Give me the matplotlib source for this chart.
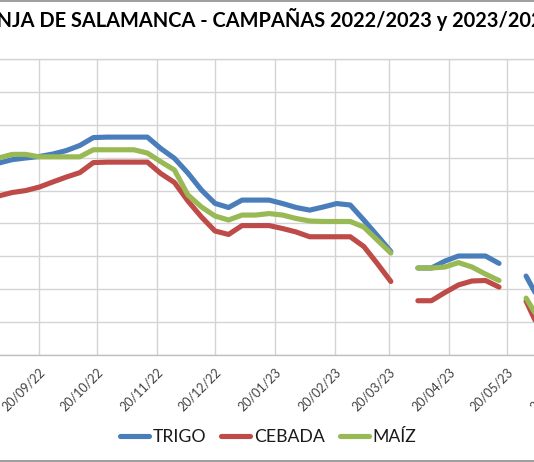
import matplotlib
matplotlib.use('Agg')
import matplotlib.pyplot as plt
import matplotlib.dates as mdates
from matplotlib.transforms import ScaledTranslation
from matplotlib.lines import Line2D
import numpy as np
from datetime import datetime, timedelta

plt.rcParams['font.family'] = ['Lato', 'DejaVu Sans']

# ---- data ----
fechas = ['2022-08-30', '2022-09-06', '2022-09-13', '2022-09-20', '2022-09-27',
          '2022-10-04', '2022-10-11', '2022-10-18', '2022-10-25', '2022-11-01',
          '2022-11-08', '2022-11-15', '2022-11-22', '2022-11-29', '2022-12-06',
          '2022-12-13', '2022-12-20', '2022-12-27', '2023-01-03', '2023-01-10',
          '2023-01-17', '2023-01-24', '2023-01-31', '2023-02-07', '2023-02-14',
          '2023-02-21', '2023-02-28', '2023-03-07', '2023-03-14', '2023-03-21',
          '2023-03-28', '2023-04-04', '2023-04-11', '2023-04-18', '2023-04-25',
          '2023-05-02', '2023-05-09', '2023-05-16', '2023-05-23', '2023-05-30',
          '2023-06-06']

trigo = [316.7, 318.8, 319.8, 320.7, 322.2, 324.3, 327.4, 332.2, 332.5, 332.5,
         332.5, 332.5, 325.5, 319.6, 310.6, 300.3, 292.2, 289.7, 294.2, 294.2,
         294.2, 292.1, 289.7, 288.1, 290.0, 292.1, 291.2, 282.1, 272.6, 262.9,
         None, 252.9, 252.9, 257.1, 260.2, 260.2, 260.2, 255.7, None, 248.0,
         233.0]

cebada = [296.7, 298.8, 300.0, 302.1, 305.2, 308.2, 310.9, 317.0, 317.3, 317.3,
          317.3, 317.3, 310.3, 304.9, 293.6, 283.9, 275.4, 273.3, 278.7, 278.7,
          278.7, 276.9, 274.8, 271.9, 271.9, 271.9, 271.9, 266.0, 255.6, 244.7,
          None, 233.0, 233.0, 238.0, 242.6, 245.0, 245.3, 241.3, None, 232.8,
          215.2]

maiz = [319.8, 322.0, 322.0, 320.5, 320.5, 320.5, 320.5, 324.8, 324.8, 324.8,
        324.8, 322.8, 317.5, 312.5, 297.3, 290.0, 284.5, 282.1, 285.1, 285.1,
        286.0, 285.1, 283.0, 281.5, 281.2, 281.2, 281.2, 277.8, 269.9, 262.0,
        None, 252.9, 252.9, 253.5, 256.2, 253.5, 249.2, 245.3, None, 234.6,
        221.0]

series_names = ['TRIGO', 'CEBADA', 'MAÍZ']
series_colors = ['#4A7EBB', '#BE4B48', '#98B954']

tick_fechas = ['2022-09-20', '2022-10-20', '2022-11-20', '2022-12-20',
               '2023-01-20', '2023-02-20', '2023-03-20', '2023-04-20',
               '2023-05-20']
tick_extra = '2023-06-20'   # label partly visible at the right edge

titulo = 'LONJA DE SALAMANCA - CAMPAÑAS 2022/2023 y 2023/2024'

# ---- figure ----
W, H = 534, 462
fig = plt.figure(figsize=(W / 100, H / 100), dpi=100)
fig.patch.set_facecolor('white')

ax = fig.add_axes([0, 107 / H, 1, 296 / H])

x = [datetime.strptime(d, '%Y-%m-%d') for d in fechas]
def arr(v):
    return np.array([np.nan if a is None else a for a in v], dtype=float)

for vals, name, col in zip([trigo, cebada, maiz], series_names, series_colors):
    ax.plot(x, arr(vals), color=col, lw=3.7, label=name,
            solid_capstyle='round', solid_joinstyle='round', zorder=3)

ax.set_yticks(np.arange(200, 381, 20))
ax.set_xticks([datetime.strptime(d, '%Y-%m-%d') for d in tick_fechas])
ax.xaxis.set_major_formatter(mdates.DateFormatter('%d/%m/%y'))
d0 = datetime(2022, 9, 20)
ax.set_xlim(d0 - timedelta(days=20.29), d0 + timedelta(days=256.1))
ax.set_ylim(200, 380)

ax.grid(True, color='#d4d4d4', lw=1.0, zorder=0)
ax.set_axisbelow(True)
for s in ['left', 'right']:
    ax.spines[s].set_visible(False)
ax.spines['top'].set_color('#d4d4d4')
ax.spines['top'].set_linewidth(1.0)
ax.spines['bottom'].set_color('#bfbfbf')
ax.spines['bottom'].set_linewidth(1.0)

lab_color = '#404040'
ax.tick_params(axis='y', left=False, labelleft=False)
ax.tick_params(axis='x', length=0, pad=11, labelsize=9, labelcolor=lab_color)
off = ScaledTranslation(4 / 100, 0, fig.dpi_scale_trans)
for lbl in ax.get_xticklabels():
    lbl.set_rotation(45)
    lbl.set_ha('right')
    lbl.set_va('center')
    lbl.set_rotation_mode('anchor')
    lbl.set_transform(lbl.get_transform() + off)

# partial tick label beyond the right edge
dx = datetime.strptime(tick_extra, '%Y-%m-%d')
ax.annotate(dx.strftime('%d/%m/%y'), xy=(mdates.date2num(dx), 0),
            xycoords=('data', 'axes fraction'), xytext=(2.88, -11),
            textcoords='offset points', rotation=45, ha='right', va='center',
            rotation_mode='anchor', fontsize=9, color=lab_color,
            annotation_clip=False)

# legend
handles, labels = ax.get_legend_handles_labels()
fig.legend(handles, labels, loc='center', bbox_to_anchor=(268 / W, (H - 437) / H),
           ncol=3, frameon=False, handlelength=1.65, handletextpad=0.2,
           columnspacing=0.85, prop={'family': ['Lato', 'DejaVu Sans'], 'size': 12.7},
           labelcolor='#1a1a1a')

# title: visible part starts at "NJA" at left edge, cut on right
renderer = fig.canvas.get_renderer()
probe = fig.text(0, 0, 'NJA DE SALAMANCA - CAMPAÑAS 2022/2023 y 2023/', fontsize=12,
                 fontweight='bold')
wprobe = probe.get_window_extent(renderer).width
probe.remove()
tsize = 12 * 511 / wprobe
probe2 = fig.text(0, 0, 'LO', fontsize=tsize, fontweight='bold')
wlo = probe2.get_window_extent(renderer).width
probe2.remove()
fig.text((1.7 - wlo - 5.3) / W, (H - 27) / H, titulo, fontsize=tsize, fontweight='bold',
         ha='left', va='baseline', color='#000000')

# chart border (top and bottom edges)
fig.add_artist(Line2D([0, 1], [1 - 0.8 / H] * 2, transform=fig.transFigure,
                      color='#8c8c8c', lw=1.2))
fig.add_artist(Line2D([0, 1], [1.2 / H] * 2, transform=fig.transFigure,
                      color='#8c8c8c', lw=1.2))

fig.savefig('out.png', dpi=100)
